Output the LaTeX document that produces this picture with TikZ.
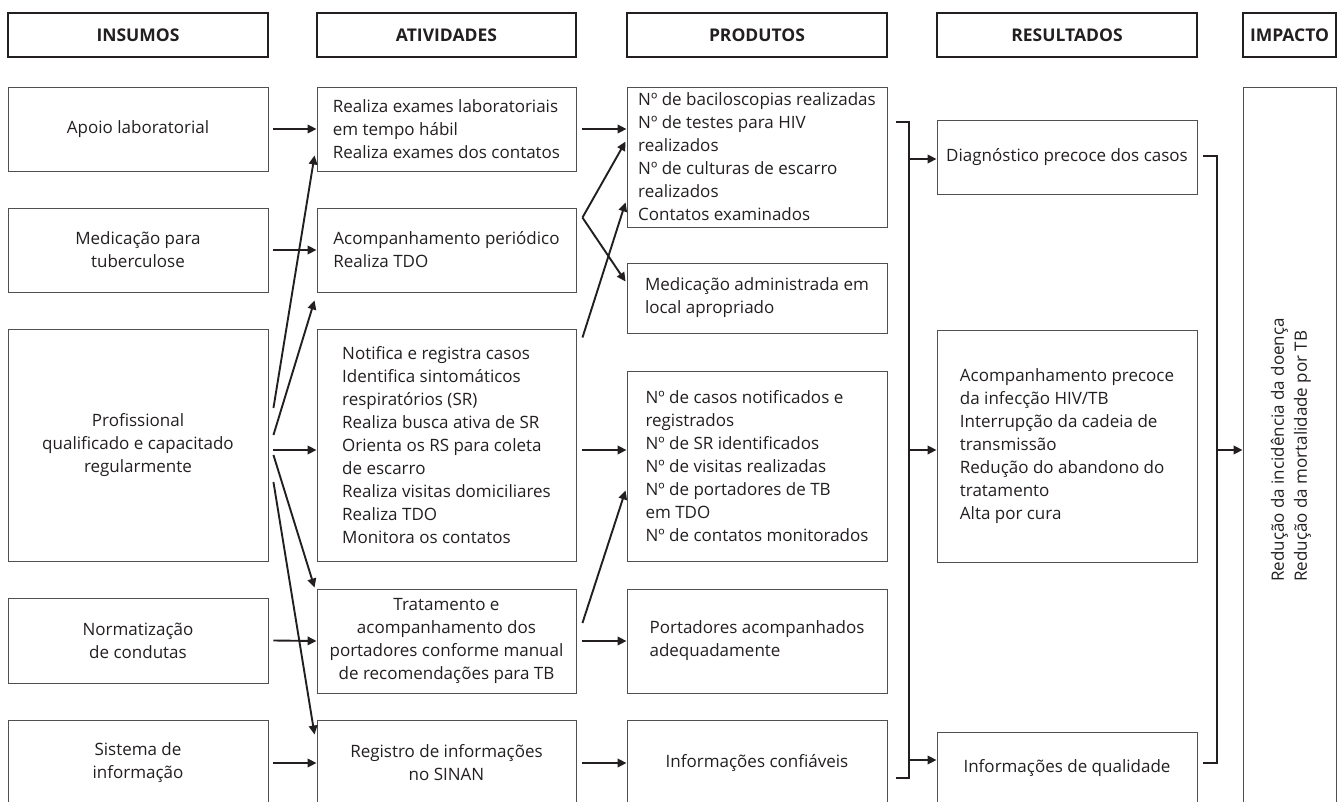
\documentclass[tikz,border=0pt]{standalone}
\usepackage{fontspec}
\setmainfont{Open Sans}
\usepackage{xcolor}
\usepackage{tikz}
\usetikzlibrary{calc,arrows.meta}
\definecolor{ink}{HTML}{231F20}
\definecolor{rule}{HTML}{505050}
\tikzset{
  headbox/.style = {draw=ink, line width=2.2pt, minimum height=44pt, inner sep=0pt, font=\fontsize{17.5}{23}\selectfont\bfseries, text=ink},
  cell/.style    = {draw=rule, line width=0.9pt, inner sep=0pt, font=\fontsize{17}{23}\selectfont, text=ink},
  celll/.style   = {cell, align=left},
  cellc/.style   = {cell, align=center},
  turned/.style  = {font=\fontsize{17}{23}\selectfont, text=ink, align=left, rotate=90, inner sep=0pt},
  flow/.style    = {-{Triangle[length=9pt,width=8.5pt]}, draw=ink, line width=1.9pt},
  bracket/.style = {draw=ink, line width=2pt},
}

\begin{document}
\begin{tikzpicture}[x=1pt,y=-1pt]
\path[use as bounding box] (0,0) rectangle (1344,802);

% ---- column heads -------------------------------------------------------
\foreach \x/\w/\lab/\id in {138/260/INSUMOS/hins, 446.5/259/ATIVIDADES/hati, 757/260/PRODUTOS/hpro,
                            1067/260/RESULTADOS/hres, 1289.5/93/IMPACTO/himp} {
  \node[headbox, minimum width=\w pt] (\id) at (\x,35) {\lab};
}

% ---- insumos ------------------------------------------------------------
\node[cellc, minimum width=260pt, minimum height=84pt]  (ins1) at (138,129)   {Apoio laboratorial};
\node[cellc, minimum width=260pt, minimum height=84pt]  (ins2) at (138,250)   {Medicação para\\tuberculose};
\node[cellc, minimum width=260pt, minimum height=232pt] (ins3) at (138,445)   {Profissional\\qualificado e capacitado\\regularmente};
\node[cellc, minimum width=260pt, minimum height=85pt]  (ins4) at (138,640.5) {Normatização\\de condutas};
\node[cellc, minimum width=260pt, minimum height=86pt]  (ins5) at (138,763)   {Sistema de\\informação};

% ---- atividades ---------------------------------------------------------
\node[celll, minimum width=259pt, minimum height=84pt]  (act1) at (446.5,129) {Realiza exames laboratoriais\\em tempo hábil\\Realiza exames dos contatos};
\node[celll, minimum width=259pt, minimum height=84pt]  (act2) at (446.5,250) {Acompanhamento periódico\\Realiza TDO};
\node[celll, minimum width=259pt, minimum height=232pt] (act3) at (446.5,445) {Notifica e registra casos\\Identifica sintomáticos\\respiratórios (SR)\\Realiza busca ativa de SR\\Orienta os RS para coleta\\de escarro\\Realiza visitas domiciliares\\Realiza TDO\\Monitora os contatos};
\node[cellc, minimum width=259pt, minimum height=104pt] (act4) at (446.5,641) {Tratamento e\\acompanhamento dos\\portadores conforme manual\\de recomendações para TB};
\node[cellc, minimum width=259pt, minimum height=86pt]  (act5) at (446.5,763) {Registro de informações\\no SINAN};

% ---- produtos -----------------------------------------------------------
\node[celll, minimum width=260pt, minimum height=140pt] (out1) at (757,157) {Nº de baciloscopias realizadas\\Nº de testes para HIV\\realizados\\Nº de culturas de escarro\\realizados\\Contatos examinados};
\node[celll, minimum width=260pt, minimum height=70pt]  (out2) at (757,298) {Medicação administrada em\\local apropriado};
\node[celll, minimum width=260pt, minimum height=190pt] (out3) at (757,466) {Nº de casos notificados e\\registrados\\Nº de SR identificados\\Nº de visitas realizadas\\Nº de portadores de TB\\em TDO\\Nº de contatos monitorados};
\node[celll, minimum width=260pt, minimum height=104pt] (out4) at (757,641) {Portadores acompanhados\\adequadamente};
\node[cellc, minimum width=260pt, minimum height=86pt]  (out5) at (757,763) {Informações confiáveis};

% ---- resultados ---------------------------------------------------------
\node[celll, minimum width=260pt, minimum height=74pt]  (res1) at (1067,157) {Diagnóstico precoce dos casos};
\node[celll, minimum width=260pt, minimum height=232pt] (res2) at (1067,446) {Acompanhamento precoce\\da infecção HIV/TB\\Interrupção da cadeia de\\transmissão\\Redução do abandono do\\tratamento\\Alta por cura};
\node[cellc, minimum width=260pt, minimum height=72pt]  (res3) at (1067,768) {Informações de qualidade};

% ---- impacto ------------------------------------------------------------
\node[cell, minimum width=93pt, minimum height=724pt] (imp) at (1289.5,449) {};
\node[turned] (impt) at (1291,450) {Redução da incidência da doença\\Redução da mortalidade por TB};

% ---- insumos -> atividades ----------------------------------------------
\foreach \a/\b in {ins1/act1, ins2/act2, ins4/act4, ins5/act5}
  \draw[flow] ($(\a.east)+(5,0)$) -- (\b.west);
\draw[flow] ($(ins3.east)+(5,5)$) -- ($(act3.west)+(0,5)$);
\draw[flow] ($(ins3.east)+(5,-37)$) -- ($(act1.south west)+(-2,-16)$);
\draw[flow] ($(ins3.east)+(5,-10)$) -- ($(act2.south west)+(-2,8)$);
\draw[flow] ($(ins3.east)+(5,10)$)  -- ($(act4.north west)+(-2,-1)$);
\draw[flow] ($(ins3.east)+(5,37)$)  -- ($(act5.north west)+(-2,15)$);

% ---- atividades -> produtos ---------------------------------------------
\draw[flow] ($(act1.east)+(6,0)$) -- (act1.east -| out1.west);
\coordinate (fork) at ($(act2.north east)+(6,10)$);
\draw[flow] (fork) -- ($(out1.north west)+(-1,55)$);
\draw[flow] (fork) -- ($(out2.north west)+(-1,19)$);
\draw[flow] ($(act3.north east)+(6,9)$) -- ($(out1.south west)+(-1,-25)$);
\draw[flow] ($(act3.east)+(6,5)$) -- ($(act3.east -| out3.west)+(0,5)$);
\draw[flow] ($(act4.east)+(6,-18)$) -- ($(out3.south west)+(-1,-71)$);
\draw[flow] ($(act4.east)+(6,0)$) -- (out4.west);
\draw[flow] ($(act5.east)+(6,0)$) -- (out5.west);

% ---- produtos -> resultados ---------------------------------------------
\coordinate (jt) at ($(out1.north east)+(22,35)$);
\coordinate (jb) at ($(out5.north east)+(22,58)$);
\draw[bracket] ($(jt)+(-13,0)$) -- (jt) -- (jb) -- ($(jb)+(-13,0)$);
\draw[flow] ($(jt |- res1.west)+(0,2)$) -- ($(res1.west)+(0,2)$);
\draw[flow] ($(jt |- res2.west)+(0,4)$) -- ($(res2.west)+(0,4)$);
\draw[flow] ($(jt |- res3.west)+(0,-8)$) -- ($(res3.west)+(0,-8)$);

% ---- resultados -> impacto ----------------------------------------------
\coordinate (kt) at ($(res1.north east)+(20,36)$);
\coordinate (kb) at ($(res3.north east)+(20,31)$);
\draw[bracket] ($(kt)+(-14,0)$) -- (kt) -- (kb) -- ($(kb)+(-14,0)$);
\draw[flow] ($(kt |- imp.west)+(0,1)$) -- ($(imp.west)+(0,1)$);

\end{tikzpicture}
\end{document}
